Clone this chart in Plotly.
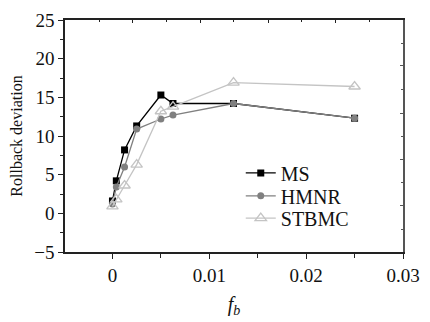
import plotly.graph_objects as go

# data
fb = [0.0, 0.0004, 0.00125, 0.0025, 0.005, 0.00625, 0.0125, 0.025]
ms = [1.6, 4.2, 8.2, 11.3, 15.3, 14.2, 14.2, 12.3]
hmnr = [1.2, 3.4, 6.0, 10.9, 12.2, 12.7, 14.2, 12.3]
stbmc = [0.9, 1.8, 3.6, 6.3, 13.2, 13.8, 16.9, 16.4]
x_ticks = [0, 0.01, 0.02, 0.03]
x_labels = ["0", "0.01", "0.02", "0.03"]
y_ticks = [-5, 0, 5, 10, 15, 20, 25]
y_labels = ["\u22125", "0", "5", "10", "15", "20", "25"]

FONT = "Liberation Serif"
AX = "#222222"

fig = go.Figure()
fig.add_trace(go.Scatter(x=fb, y=ms, name="MS", mode="lines+markers", legend="legend",
                         line=dict(color="#000000", width=1.3),
                         marker=dict(symbol="square", size=7, color="#000000")))
fig.add_trace(go.Scatter(x=fb, y=hmnr, name="HMNR", mode="lines+markers", legend="legend2",
                         line=dict(color="#808080", width=1.3),
                         marker=dict(symbol="circle", size=7, color="#808080")))
fig.add_trace(go.Scatter(x=fb, y=stbmc, name="STBMC", mode="lines+markers", legend="legend3",
                         line=dict(color="#c4c4c4", width=1.3),
                         marker=dict(symbol="triangle-up-open", size=10, color="#c4c4c4",
                                     line=dict(width=1.3))))
# dummy trace for mirrored box axes (top/right ticks)
fig.add_trace(go.Scatter(x=[None], y=[None], xaxis="x2", yaxis="y2", showlegend=False))

leg = dict(x=0.52, xanchor="left", yanchor="middle", bgcolor="rgba(0,0,0,0)",
           font=dict(family=FONT, size=20), borderwidth=0)

fig.update_layout(
    width=430, height=322,
    margin=dict(l=65, r=21, t=10, b=70),
    plot_bgcolor="white", paper_bgcolor="white",
    font=dict(family=FONT, size=19, color="#111111"),
    xaxis=dict(range=[-0.0049, 0.03], tickvals=x_ticks, ticktext=x_labels,
               tickfont=dict(family=FONT, size=19),
               showgrid=False, zeroline=False, showline=True, linecolor=AX, linewidth=1.5,
               ticks="outside", ticklen=5, tickcolor=AX, tickwidth=1.2,
               ticklabeloverflow="allow",
               minor=dict(tickvals=[0.005, 0.015, 0.025], ticks="outside", ticklen=4,
                          tickcolor=AX, tickwidth=1),
               title=dict(text="<i>f<sub>b</sub></i>", font=dict(family=FONT, size=20),
                          standoff=12)),
    yaxis=dict(range=[-5, 25], tickvals=y_ticks, ticktext=y_labels,
               tickfont=dict(family=FONT, size=19),
               showgrid=False, zeroline=False, showline=True, linecolor=AX, linewidth=1.5,
               ticks="outside", ticklen=5, tickcolor=AX, tickwidth=1.2,
               ticklabeloverflow="allow",
               minor=dict(dtick=2.5, tick0=0, ticks="outside", ticklen=3,
                          tickcolor=AX, tickwidth=1),
               title=dict(text="Rollback deviation", font=dict(family=FONT, size=16),
                          standoff=8)),
    xaxis2=dict(overlaying="x", side="top", range=[65, 409], showgrid=False,
                zeroline=False, showline=True, linecolor=AX, linewidth=1.5,
                tickvals=[134, 202.7, 271.7, 340], showticklabels=False,
                ticks="inside", ticklen=3, tickcolor=AX, tickwidth=1.2,
                minor=dict(tickvals=[100, 168.3, 236.7, 306, 375], ticks="inside",
                           ticklen=2, tickcolor=AX, tickwidth=1)),
    yaxis2=dict(overlaying="y", side="right", range=[0, 242], showgrid=False,
                zeroline=False, showline=True, linecolor="#555555", linewidth=1.5,
                tickvals=[194.3, 144.7, 96.3, 48.3], showticklabels=False,
                ticks="inside", ticklen=3, tickcolor="#555555", tickwidth=1.2,
                minor=dict(tickvals=[218, 169.7, 121, 72, 23.3], ticks="inside",
                           ticklen=2, tickcolor="#555555", tickwidth=1)),
    legend=dict(leg, y=0.341),
    legend2=dict(leg, y=0.242),
    legend3=dict(leg, y=0.146),
    showlegend=True,
)

fig.write_html("out.html", config={"displayModeBar": False},
               post_script="document.body.style.margin='0';")
